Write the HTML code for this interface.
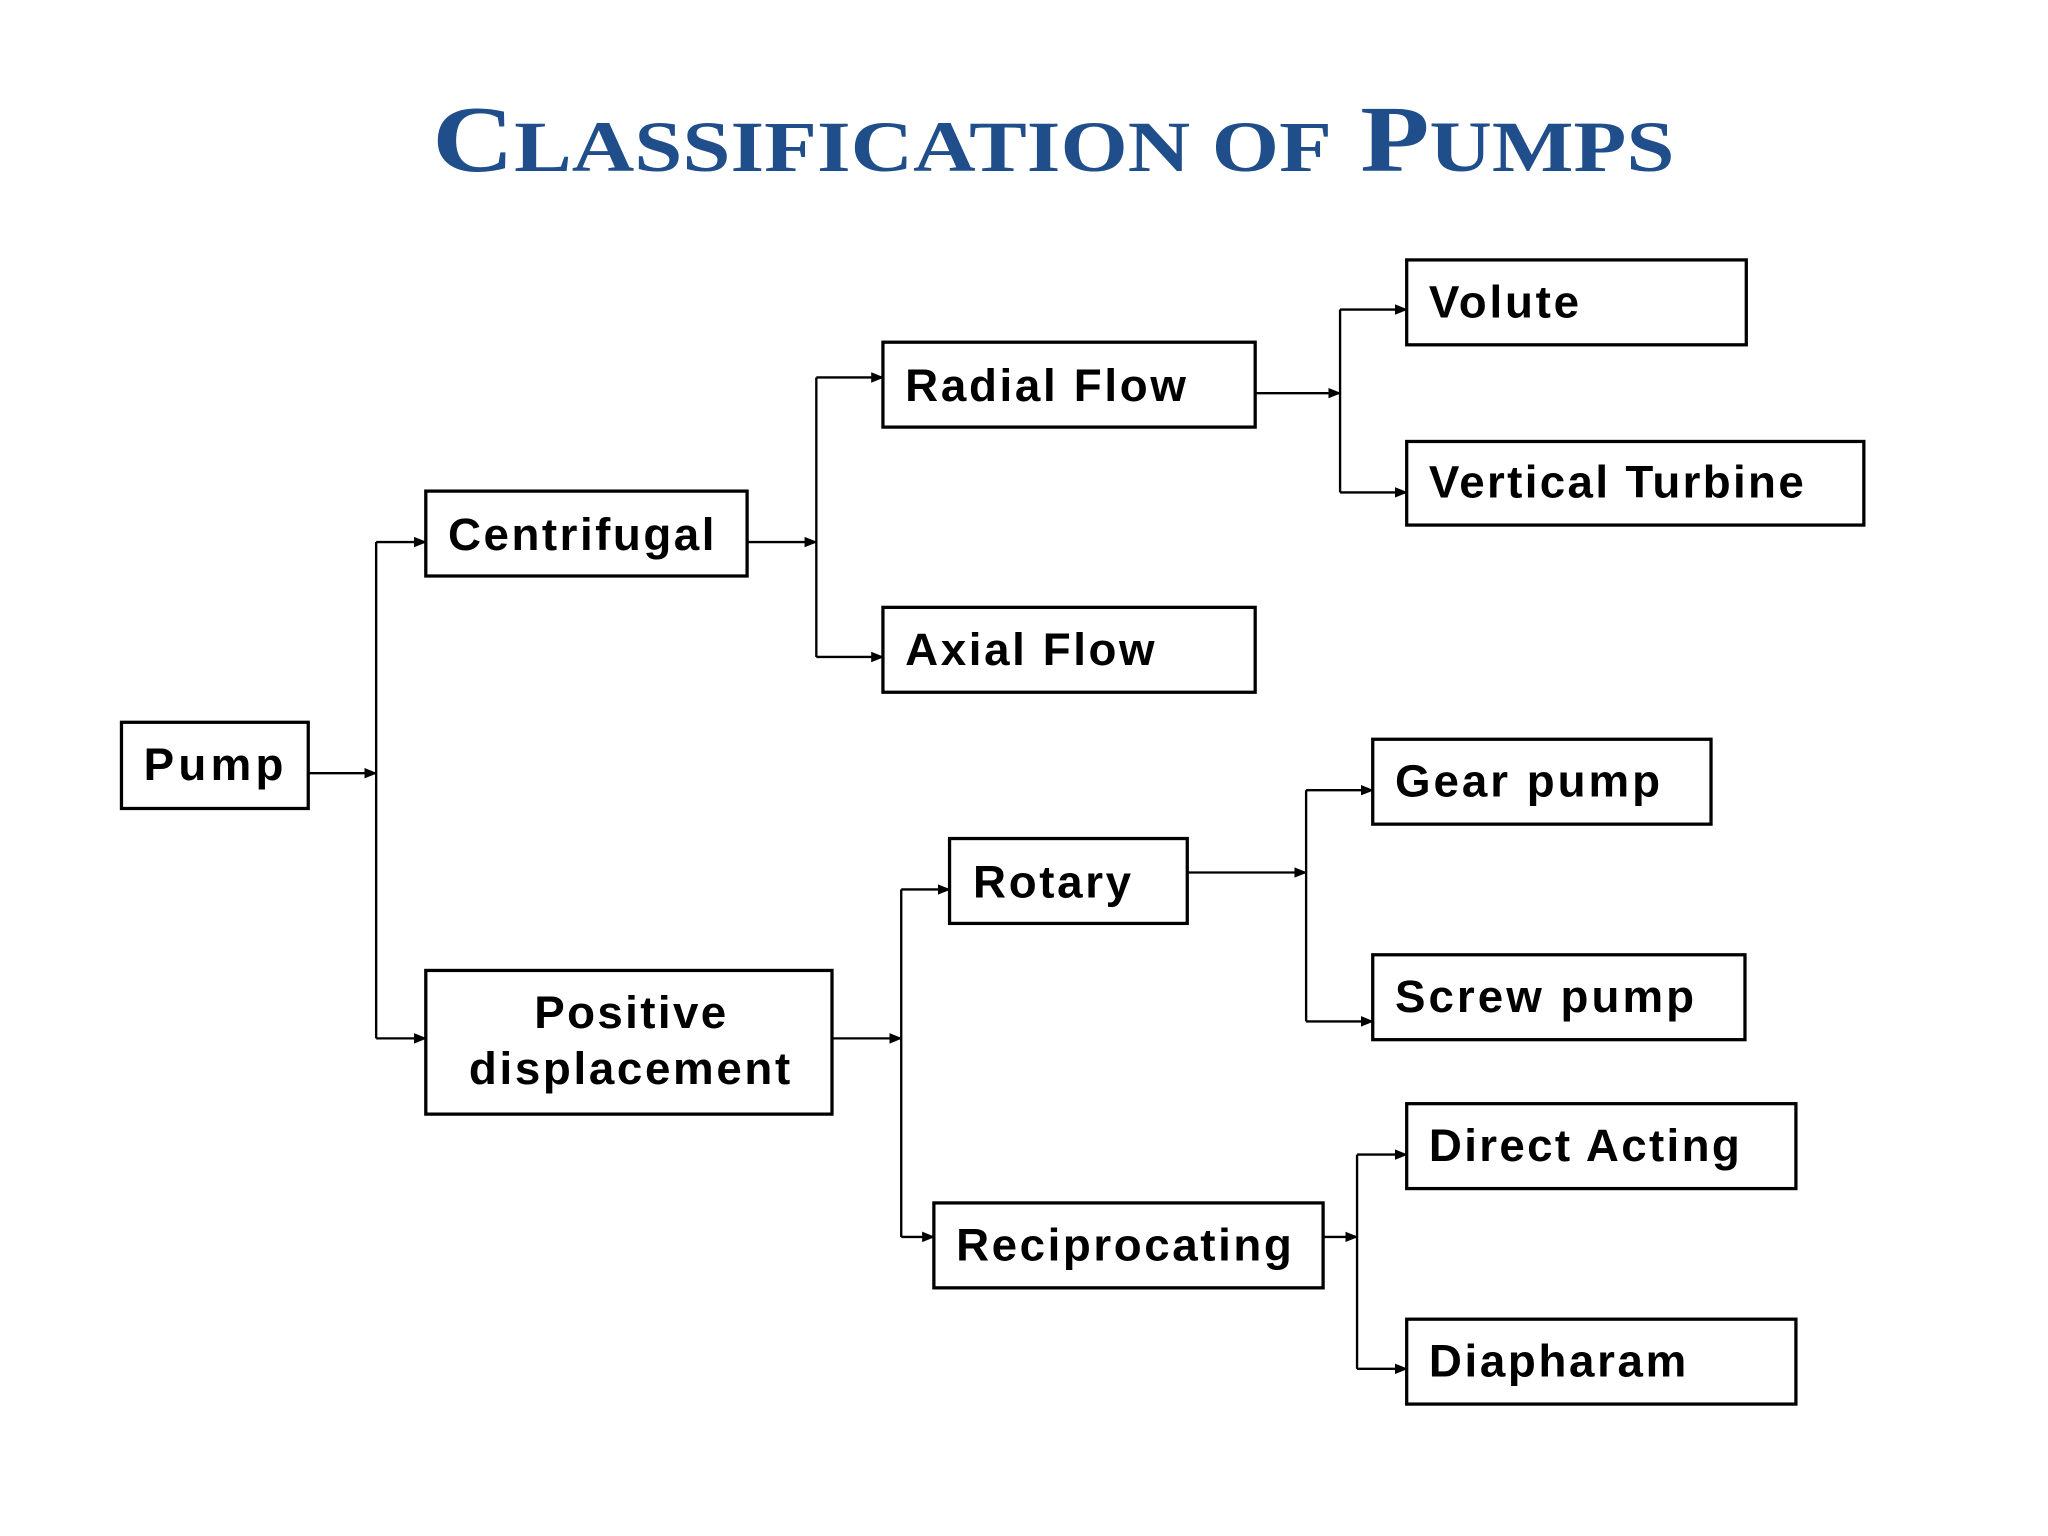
<!DOCTYPE html>
<html><head><meta charset="utf-8"><style>
html,body{margin:0;padding:0;background:#fff;}
svg{display:block;}
</style></head><body>
<svg width="2048" height="1536" viewBox="0 0 1568 1176" xmlns="http://www.w3.org/2000/svg">
<defs><marker id="a" markerWidth="10" markerHeight="10" refX="9" refY="5" orient="auto" markerUnits="userSpaceOnUse"><path d="M0,1 L10,5 L0,9 z" fill="#000"/></marker></defs>
<rect width="1568" height="1176" fill="#fff"/>
<text x="331" y="131" textLength="951" lengthAdjust="spacingAndGlyphs" font-family="Liberation Serif, serif" font-weight="bold" fill="#1f4e8a" font-size="72"><tspan>C</tspan><tspan font-size="55">LASSIFICATION OF</tspan><tspan>  P</tspan><tspan font-size="55">UMPS</tspan></text>
<g fill="#fff" stroke="#000" stroke-width="2.5">
<rect x="93" y="553" width="143" height="66"/>
<rect x="326" y="376" width="246" height="65"/>
<rect x="326" y="743" width="311" height="110"/>
<rect x="676" y="262" width="285" height="65"/>
<rect x="676" y="465" width="285" height="65"/>
<rect x="1077" y="199" width="260" height="65"/>
<rect x="1077" y="338" width="350" height="64"/>
<rect x="727" y="642" width="182" height="65"/>
<rect x="715" y="921" width="298" height="65"/>
<rect x="1051" y="566" width="259" height="65"/>
<rect x="1051" y="731" width="285" height="65"/>
<rect x="1077" y="845" width="298" height="65"/>
<rect x="1077" y="1010" width="298" height="65"/>
</g>
<g stroke="#000" stroke-width="1.8" fill="none">
<line x1="236" y1="592" x2="288" y2="592" marker-end="url(#a)"/>
<line x1="288" y1="415" x2="288" y2="795"/>
<line x1="288" y1="415" x2="326" y2="415" marker-end="url(#a)"/>
<line x1="288" y1="795" x2="326" y2="795" marker-end="url(#a)"/>
<line x1="572" y1="415" x2="625" y2="415" marker-end="url(#a)"/>
<line x1="625" y1="289" x2="625" y2="503"/>
<line x1="625" y1="289" x2="676" y2="289" marker-end="url(#a)"/>
<line x1="625" y1="503" x2="676" y2="503" marker-end="url(#a)"/>
<line x1="961" y1="301" x2="1026" y2="301" marker-end="url(#a)"/>
<line x1="1026" y1="237" x2="1026" y2="377"/>
<line x1="1026" y1="237" x2="1077" y2="237" marker-end="url(#a)"/>
<line x1="1026" y1="377" x2="1077" y2="377" marker-end="url(#a)"/>
<line x1="637" y1="795" x2="690" y2="795" marker-end="url(#a)"/>
<line x1="690" y1="681" x2="690" y2="947"/>
<line x1="690" y1="681" x2="727" y2="681" marker-end="url(#a)"/>
<line x1="690" y1="947" x2="715" y2="947" marker-end="url(#a)"/>
<line x1="909" y1="668" x2="1000" y2="668" marker-end="url(#a)"/>
<line x1="1000" y1="605" x2="1000" y2="782"/>
<line x1="1000" y1="605" x2="1051" y2="605" marker-end="url(#a)"/>
<line x1="1000" y1="782" x2="1051" y2="782" marker-end="url(#a)"/>
<line x1="1013" y1="947" x2="1039" y2="947" marker-end="url(#a)"/>
<line x1="1039" y1="884" x2="1039" y2="1048"/>
<line x1="1039" y1="884" x2="1077" y2="884" marker-end="url(#a)"/>
<line x1="1039" y1="1048" x2="1077" y2="1048" marker-end="url(#a)"/>
</g>
<g font-family="Liberation Sans, Arial, sans-serif" font-weight="bold" font-size="35" fill="#000" lengthAdjust="spacingAndGlyphs">
<text x="110" y="597" textLength="107">Pump</text>
<text x="343" y="421" textLength="204">Centrifugal</text>
<text x="409" y="787" textLength="147">Positive</text>
<text x="359" y="830" textLength="246">displacement</text>
<text x="693" y="307" textLength="215">Radial Flow</text>
<text x="693" y="509" textLength="191">Axial Flow</text>
<text x="1094" y="243" textLength="115">Volute</text>
<text x="1094" y="381" textLength="287">Vertical Turbine</text>
<text x="745" y="687" textLength="121">Rotary</text>
<text x="732" y="965" textLength="257">Reciprocating</text>
<text x="1068" y="610" textLength="203">Gear pump</text>
<text x="1068" y="775" textLength="229">Screw pump</text>
<text x="1094" y="889" textLength="238">Direct Acting</text>
<text x="1094" y="1054" textLength="197">Diapharam</text>
</g>
</svg>
</body></html>
